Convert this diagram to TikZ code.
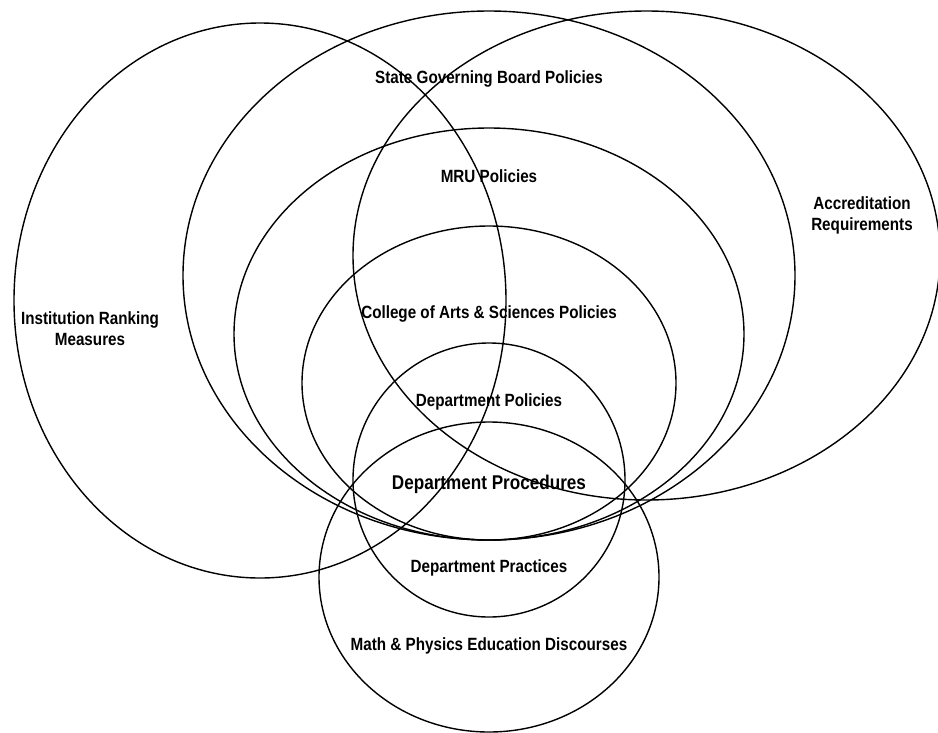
\documentclass[tikz,border=0pt]{standalone}
\usepackage{fontspec}
\setmainfont{Liberation Sans}[FakeStretch=0.86]
\usetikzlibrary{positioning}
\tikzset{
  ring/.style={draw=black, line width=1.4pt},
  tag/.style={font=\bfseries\fontsize{17.7}{21}\selectfont, align=center, inner sep=0pt},
  bigtag/.style={tag, font=\bfseries\fontsize{19.9}{23}\selectfont}
}
\begin{document}
\begin{tikzpicture}[x=1pt, y=-1pt]
  \useasboundingbox (0,0) rectangle (938,732);
  % rings
  \draw[ring] (260,300.5) ellipse [x radius=246, y radius=277.5];
  \draw[ring] (489,275.5) ellipse [x radius=306, y radius=264.5];
  \draw[ring] (646.5,255.5) ellipse [x radius=293.5, y radius=244.5];
  \draw[ring] (489,334) ellipse [x radius=255, y radius=206];
  \draw[ring] (489,383) ellipse [x radius=187, y radius=157];
  \draw[ring] (489,480) ellipse [x radius=136, y radius=137];
  \draw[ring] (489,577) ellipse [x radius=170, y radius=155];
  % labels
  \node[tag] (state) at (489,78.5) {State Governing Board Policies};
  \node[tag] (mru) at (489,176.5) {MRU Policies};
  \node[tag] (accr) at (862,215.5) {Accreditation\\Requirements};
  \node[tag] (rank) at (90,328.5) {Institution Ranking\\Measures};
  \node[tag] (coll) at (489,313.5) {College of Arts \& Sciences Policies};
  \node[tag] (dpol) at (489,401.5) {Department Policies};
  \node[bigtag] (dproc) at (489,484.5) {Department Procedures};
  \node[tag] (dprac) at (489,567.5) {Department Practices};
  \node[tag] (disc) at (489,645.5) {Math \& Physics Education Discourses};
\end{tikzpicture}
\end{document}
